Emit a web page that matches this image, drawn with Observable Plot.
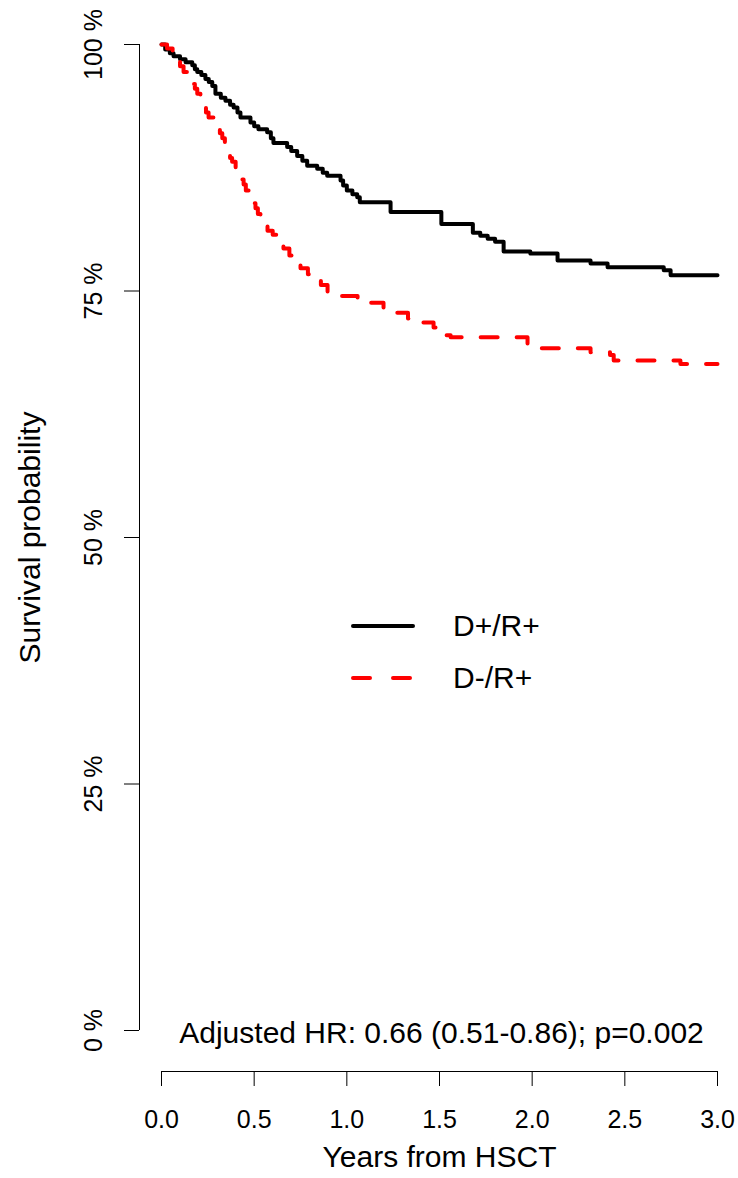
<!DOCTYPE html>
<html>
<head>
<meta charset="utf-8">
<script src="https://cdn.jsdelivr.net/npm/d3@7"></script>
<script src="https://cdn.jsdelivr.net/npm/@observablehq/plot@0.6"></script>
<style>
  html, body { margin: 0; padding: 0; background: #fff; }
  #wrap { position: relative; width: 738px; height: 1178px; font-family: "Liberation Sans", Arial, sans-serif; }
  #legend { position: absolute; left: 350px; top: 600px; }
  .lg-row { display: flex; align-items: center; height: 52px; font-size: 30px; color: #000; }
  .lg-row svg { display: block; margin-right: 37px; }
</style>
</head>
<body>
<div id="wrap"></div>
<script>
// ---- Data ----
const seriesNames = ["D+/R+", "D-/R+"];
const seriesColors = ["#000000", "#ff0000"];

// D+/R+ (black, solid): step times (years) and survival (%)
const dpTime = [0, 0.02, 0.045, 0.065, 0.10, 0.13, 0.166, 0.18, 0.193, 0.215, 0.237, 0.255, 0.274, 0.291, 0.32, 0.345, 0.37, 0.389, 0.41, 0.426, 0.48, 0.50, 0.523, 0.57, 0.59, 0.604, 0.678, 0.70, 0.732, 0.76, 0.786, 0.84, 0.87, 0.894, 0.966, 0.98, 1.0, 1.03, 1.056, 1.07, 1.236, 1.51, 1.68, 1.72, 1.76, 1.80, 1.846, 1.99, 2.137, 2.315, 2.407, 2.71, 2.747, 3.0];
const dpSurv = [100, 99.5, 99.1, 98.8, 98.5, 98.2, 97.9, 97.5, 97.2, 96.9, 96.5, 96.2, 95.8, 95.0, 94.6, 94.3, 93.9, 93.6, 93.1, 92.6, 92.1, 91.7, 91.4, 91.1, 90.5, 90.0, 89.6, 89.2, 88.7, 88.2, 87.7, 87.4, 87.0, 86.7, 86.2, 85.7, 85.2, 84.8, 84.5, 84.0, 83.0, 81.8, 80.9, 80.6, 80.3, 80.0, 79.0, 78.8, 78.1, 77.8, 77.4, 77.1, 76.6, 76.6];

// D-/R+ (red, dashed)
const dnTime = [0, 0.03, 0.06, 0.085, 0.10, 0.119, 0.14, 0.166, 0.18, 0.193, 0.21, 0.227, 0.24, 0.254, 0.28, 0.30, 0.315, 0.328, 0.342, 0.355, 0.37, 0.381, 0.40, 0.416, 0.43, 0.443, 0.455, 0.47, 0.49, 0.507, 0.52, 0.534, 0.555, 0.572, 0.60, 0.642, 0.658, 0.69, 0.712, 0.75, 0.79, 0.82, 0.86, 0.896, 0.966, 1.058, 1.128, 1.198, 1.33, 1.38, 1.468, 1.495, 1.56, 1.975, 2.315, 2.42, 2.44, 2.80, 3.0];
const dnSurv = [100, 99.6, 99.0, 98.4, 97.8, 97.2, 96.6, 96.0, 95.5, 95.0, 94.3, 93.6, 93.1, 92.6, 92.1, 91.6, 91.0, 90.5, 89.8, 89.0, 88.5, 88.1, 87.4, 86.8, 86.3, 85.8, 85.2, 84.5, 83.9, 83.4, 82.8, 82.2, 81.6, 81.1, 80.7, 80.3, 79.3, 78.6, 78.1, 77.3, 76.7, 76.3, 75.6, 74.8, 74.5, 74.2, 73.8, 72.8, 72.2, 71.8, 71.3, 70.5, 70.3, 69.2, 68.8, 68.5, 67.95, 67.6, 67.6];

const xTicks = [0, 0.5, 1, 1.5, 2, 2.5, 3];
const yTicks = [0, 25, 50, 75, 100];
const xLabel = "Years from HSCT";
const yLabel = "Survival probability";
const annotation = "Adjusted HR: 0.66 (0.51-0.86); p=0.002";

// ---- Build tables ----
const dp = dpTime.map((t, i) => ({time: t, surv: dpSurv[i], group: seriesNames[0]}));
const dn = dnTime.map((t, i) => ({time: t, surv: dnSurv[i], group: seriesNames[1]}));

const FONT = "Liberation Sans, Arial, sans-serif";

const chart = Plot.plot({
  width: 738,
  height: 1178,
  marginLeft: 161,
  marginRight: 21,
  marginTop: 44,
  marginBottom: 148,
  style: { fontFamily: FONT, background: "#fff", color: "#000" },
  x: { domain: [0, 3] },
  y: { domain: [0, 100] },
  marks: [
    // y axis (detached, R style)
    Plot.ruleX([0], { y1: 0, y2: 100, dx: -22, stroke: "#000", strokeWidth: 1 }),
    Plot.axisY({ ticks: yTicks, tickSize: 15, dx: -22, tickFormat: () => "", label: null, stroke: "#000", strokeOpacity: 1 }),
    Plot.text(yTicks, { y: d => d, frameAnchor: "left", textAnchor: "middle", lineAnchor: "middle", dx: -68, rotate: -90, text: d => `${d} %`, fontSize: 25, fill: "#000" }),
    Plot.text([yLabel], { frameAnchor: "left", textAnchor: "middle", lineAnchor: "middle", dx: -131, rotate: -90, fontSize: 30, fill: "#000" }),
    // x axis (detached)
    Plot.ruleY([0], { x1: 0, x2: 3, dy: 41, stroke: "#000", strokeWidth: 1 }),
    Plot.axisX({ ticks: xTicks, tickSize: 15, dy: 41, tickPadding: 24, tickFormat: d => d.toFixed(1), fontSize: 25, label: null, stroke: "#000", strokeOpacity: 1, fill: "#000" }),
    Plot.text([xLabel], { frameAnchor: "bottom", dy: 136, fontSize: 30, fill: "#000" }),
    // annotation
    Plot.text([annotation], { frameAnchor: "bottom", dx: 2, dy: 12, fontSize: 30, fill: "#000" }),
    // survival curves
    Plot.line(dp, { x: "time", y: "surv", curve: "step-after", stroke: seriesColors[0], strokeWidth: 4, strokeLinejoin: "round", strokeLinecap: "round" }),
    Plot.line(dn, { x: "time", y: "surv", curve: "step-after", stroke: seriesColors[1], strokeWidth: 4, strokeDasharray: "17,19", strokeLinejoin: "round", strokeLinecap: "round" })
  ]
});

const wrap = document.getElementById("wrap");
wrap.appendChild(chart);

// legend overlay
const legend = document.createElement("div");
legend.id = "legend";
seriesNames.forEach((name, i) => {
  const row = document.createElement("div");
  row.className = "lg-row";
  const dash = i === 1 ? 'stroke-dasharray="17,23"' : "";
  row.innerHTML = `<svg width="66" height="12"><line x1="3" y1="6" x2="63" y2="6" stroke="${seriesColors[i]}" stroke-width="4" stroke-linecap="round" ${dash}/></svg><span>${name}</span>`;
  legend.appendChild(row);
});
wrap.appendChild(legend);
</script>
</body>
</html>
